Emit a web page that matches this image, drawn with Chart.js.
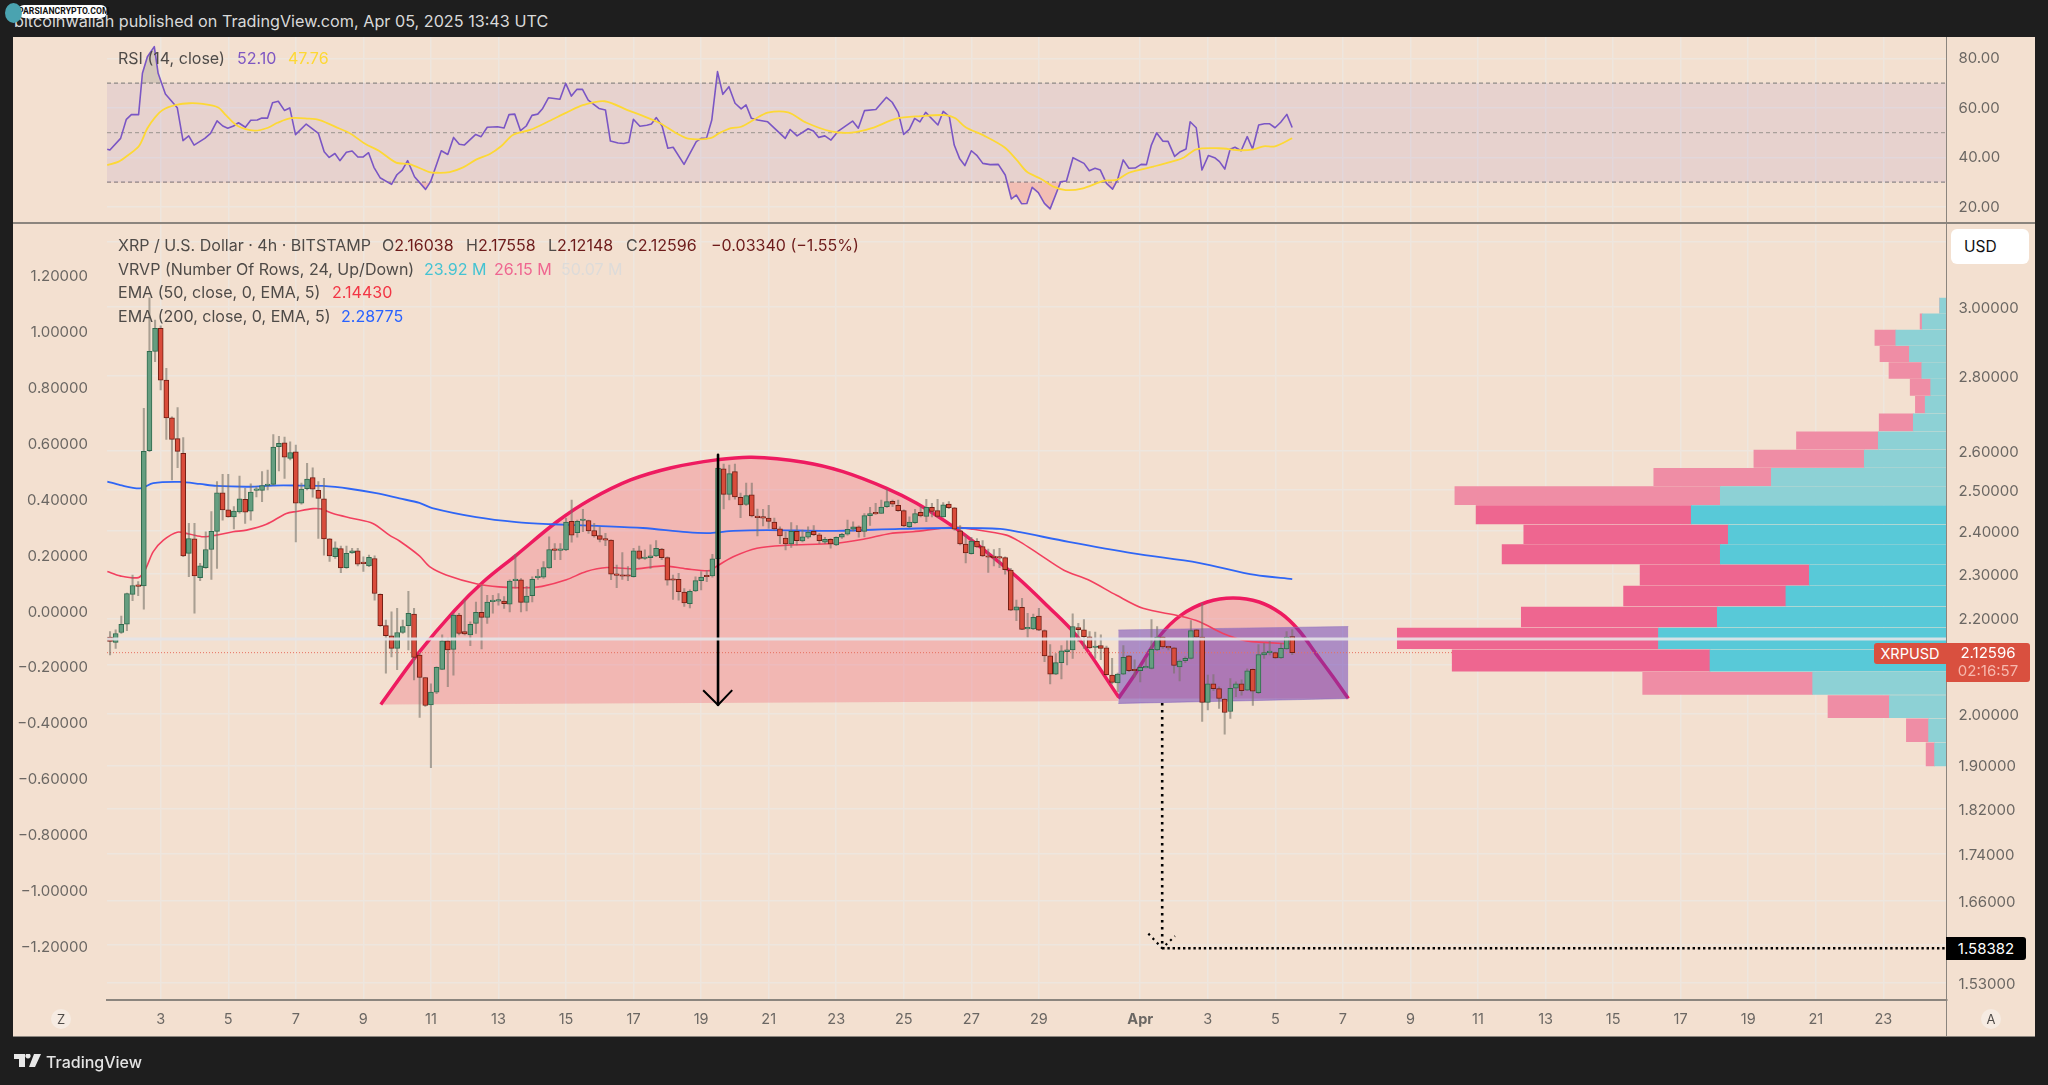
<!DOCTYPE html>
<html><head><meta charset="utf-8">
<script src="https://cdn.jsdelivr.net/npm/chart.js@4"></script>
<style>
html,body{margin:0;padding:0;background:#1e1e1e;width:2048px;height:1085px;overflow:hidden;font-family:Inter,"Noto Sans",sans-serif}
#panel{position:absolute;left:13px;top:37px;width:2022px;height:1000px;background:#f3e0d0}
canvas{position:absolute;display:block}
.t{position:absolute;white-space:nowrap;font-size:16.05px;line-height:20px;color:#4f4b48;z-index:5}
.bar{position:absolute;background:#8b857e;z-index:4}
.tag{position:absolute;z-index:6;color:#fff;text-align:center;white-space:nowrap}
</style></head><body>
<div id="panel"></div>
<canvas id="rsiChart" width="2022" height="186" style="left:13px;top:37px;width:2022px;height:186px"></canvas>
<canvas id="mainChart" width="2022" height="812" style="left:13px;top:225px;width:2022px;height:812px"></canvas>
<div class="bar" style="left:13px;top:222px;width:2022px;height:2px"></div>
<div class="bar" style="left:1946px;top:37px;width:1px;height:1000px"></div>
<div class="bar" style="left:13px;top:1036px;width:2022px;height:1px"></div>

<div class="t" style="left:14px;top:11px;color:#d9d9d9;font-size:16.2px">bitcoinwallah published on TradingView.com, Apr 05, 2025 13:43 UTC</div>
<div style="position:absolute;left:18px;top:5px;width:89px;height:13px;background:#fff;border-radius:6px;z-index:7;color:#111;font:700 8.6px/13px 'Liberation Sans Narrow','Roboto',sans-serif;text-align:right;padding-right:2px;box-sizing:border-box;white-space:nowrap;letter-spacing:.1px">PARSIANCRYPTO.COM</div>
<div style="position:absolute;left:5px;top:3px;width:17px;height:20px;background:#4aa3b0;border-radius:50%;z-index:8"></div>

<div class="t" style="left:118px;top:48px">RSI (14, close)</div>
<div class="t" style="left:237px;top:48px;color:#7e57c2">52.10</div>
<div class="t" style="left:288px;top:48px;color:#fdd835">47.76</div>

<div class="t" style="left:118px;top:235px">XRP / U.S. Dollar · 4h · BITSTAMP</div>
<div class="t" style="left:382px;top:235px">O<span style="color:#6d1b1b">2.16038</span></div>
<div class="t" style="left:466px;top:235px">H<span style="color:#6d1b1b">2.17558</span></div>
<div class="t" style="left:548px;top:235px">L<span style="color:#6d1b1b">2.12148</span></div>
<div class="t" style="left:626px;top:235px">C<span style="color:#6d1b1b">2.12596</span></div>
<div class="t" style="left:711px;top:235px;color:#6d1b1b">−0.03340 (−1.55%)</div>
<div class="t" style="left:118px;top:259px">VRVP (Number Of Rows, 24, Up/Down)</div>
<div class="t" style="left:424px;top:259px;color:#45c3d2">23.92 M</div>
<div class="t" style="left:494px;top:259px;color:#ef6690">26.15 M</div>
<div class="t" style="left:561px;top:259px;color:#dddbd9">50.07 M</div>
<div class="t" style="left:118px;top:282px">EMA (50, close, 0, EMA, 5)</div>
<div class="t" style="left:332px;top:282px;color:#f23645">2.14430</div>
<div class="t" style="left:118px;top:306px">EMA (200, close, 0, EMA, 5)</div>
<div class="t" style="left:341px;top:306px;color:#2962ff">2.28775</div>

<div class="tag" style="left:1951px;top:229px;width:78px;height:35px;background:#fff;border-radius:6px;color:#111;font-size:15.5px;line-height:35px;text-align:left;text-indent:13px">USD</div>
<div class="tag" style="left:1874px;top:643px;width:72px;height:21px;background:#d9503f;border-radius:3px 0 0 3px;font-size:14.5px;line-height:21px">XRPUSD</div>
<div class="tag" style="left:1946px;top:643px;width:84px;height:38px;background:#d9503f;border-radius:0 3px 3px 0;font-size:15px;line-height:18px;padding-top:1px">2.12596<br><span style="color:#f6b8ad">02:16:57</span></div>
<div class="tag" style="left:1946px;top:937px;width:80px;height:23px;background:#000;border-radius:0 3px 3px 0;font-size:15px;line-height:23px">1.58382</div>
<div class="t" style="left:51px;top:1009px;width:20px;height:20px;line-height:20px;text-align:center;border-radius:50%;background:#f6ebe2;font-size:13px">Z</div>
<div class="t" style="left:1981px;top:1009px;width:20px;height:20px;line-height:20px;text-align:center;border-radius:50%;background:#f6ebe2;font-size:13px">A</div>

<svg style="position:absolute;left:14px;top:1054px;z-index:6" width="27" height="14" viewBox="0 0 27 14"><path fill="#e8e8e8" d="M0 0h11v13H5V5H0zM14 4.5a2.6 2.6 0 1 1 .01 0zM20 0h7l-6 13h-6z"/></svg>
<div class="t" style="left:46px;top:1052px;color:#e4e4e4;font-size:16px;font-weight:500">TradingView</div>

<script>
// ---------- time axis (day numbers: Mar 1 = 1, Apr 1 = 32) ----------
const dayTicks=[3,5,7,9,11,13,15,17,19,21,23,25,27,29,32,34,36,38,40,42,44,46,48,50,52,54];
const dayLabels=["3","5","7","9","11","13","15","17","19","21","23","25","27","29","Apr","3","5","7","9","11","13","15","17","19","21","23"];
const dayMin=1.41, dayMax=55.87;

// ---------- price candles (4h bars) ----------
const opens=[2.159,2.148,2.169,2.187,2.253,2.272,2.272,2.600,2.870,2.937,2.789,2.686,2.631,2.593,2.347,2.381,2.291,2.314,2.356,2.399,2.493,2.451,2.434,2.446,2.477,2.448,2.499,2.499,2.511,2.514,2.610,2.620,2.580,2.597,2.467,2.503,2.531,2.499,2.478,2.381,2.339,2.358,2.314,2.348,2.353,2.324,2.318,2.335,2.253,2.184,2.162,2.135,2.169,2.184,2.209,2.121,2.074,2.018,2.044,2.091,2.151,2.133,2.207,2.171,2.164,2.189,2.213,2.202,2.237,2.238,2.238,2.231,2.284,2.286,2.235,2.250,2.291,2.292,2.313,2.356,2.354,2.355,2.423,2.396,2.425,2.425,2.401,2.389,2.381,2.378,2.297,2.295,2.295,2.293,2.353,2.335,2.337,2.341,2.357,2.337,2.286,2.287,2.258,2.232,2.261,2.284,2.295,2.295,2.334,2.553,2.489,2.546,2.482,2.464,2.488,2.436,2.432,2.431,2.421,2.405,2.383,2.369,2.399,2.376,2.385,2.399,2.391,2.373,2.380,2.367,2.385,2.392,2.404,2.410,2.399,2.437,2.445,2.442,2.459,2.472,2.462,2.449,2.410,2.420,2.445,2.435,2.457,2.449,2.434,2.465,2.456,2.400,2.369,2.346,2.375,2.363,2.339,2.338,2.337,2.337,2.308,2.218,2.224,2.177,2.177,2.205,2.173,2.119,2.081,2.105,2.128,2.132,2.180,2.175,2.160,2.137,2.141,2.136,2.079,2.063,2.081,2.119,2.089,2.088,2.094,2.093,2.132,2.159,2.137,2.136,2.096,2.109,2.114,2.175,2.159,2.023,2.061,2.051,2.030,2.005,2.052,2.061,2.048,2.091,2.043,2.121,2.126,2.126,2.115,2.134,2.16038];
const highs=[2.171,2.175,2.205,2.256,2.297,2.282,2.712,3.027,2.961,2.944,2.822,2.689,2.714,2.634,2.418,2.418,2.324,2.398,2.447,2.521,2.539,2.539,2.459,2.535,2.504,2.515,2.508,2.546,2.550,2.642,2.637,2.635,2.623,2.614,2.517,2.567,2.556,2.521,2.529,2.382,2.374,2.364,2.364,2.359,2.359,2.339,2.343,2.341,2.254,2.196,2.214,2.222,2.196,2.260,2.222,2.125,2.074,2.061,2.096,2.164,2.157,2.211,2.211,2.240,2.192,2.236,2.274,2.251,2.251,2.255,2.248,2.286,2.345,2.289,2.271,2.293,2.310,2.328,2.386,2.370,2.370,2.431,2.475,2.426,2.452,2.426,2.418,2.410,2.394,2.379,2.320,2.349,2.316,2.359,2.364,2.355,2.367,2.377,2.359,2.339,2.297,2.301,2.266,2.263,2.293,2.305,2.307,2.345,2.565,2.565,2.563,2.565,2.492,2.517,2.517,2.453,2.452,2.462,2.431,2.410,2.398,2.420,2.413,2.402,2.410,2.413,2.394,2.385,2.382,2.386,2.394,2.426,2.422,2.412,2.442,2.457,2.467,2.475,2.502,2.475,2.475,2.451,2.434,2.452,2.459,2.477,2.467,2.477,2.469,2.471,2.457,2.413,2.390,2.385,2.382,2.377,2.357,2.356,2.359,2.339,2.312,2.240,2.244,2.211,2.209,2.222,2.175,2.143,2.124,2.141,2.153,2.210,2.189,2.197,2.171,2.170,2.164,2.140,2.114,2.083,2.141,2.120,2.111,2.100,2.114,2.197,2.182,2.160,2.140,2.137,2.111,2.117,2.195,2.176,2.233,2.079,2.080,2.055,2.031,2.072,2.065,2.069,2.092,2.092,2.143,2.146,2.150,2.127,2.146,2.171,2.17558];
const lows=[2.121,2.135,2.167,2.173,2.239,2.250,2.220,2.597,2.841,2.762,2.629,2.525,2.556,2.339,2.293,2.211,2.284,2.312,2.287,2.312,2.426,2.433,2.405,2.443,2.418,2.426,2.483,2.471,2.500,2.512,2.548,2.529,2.576,2.374,2.465,2.500,2.482,2.382,2.343,2.328,2.335,2.302,2.312,2.347,2.318,2.305,2.316,2.240,2.182,2.083,2.117,2.090,2.167,2.132,2.069,1.993,2.015,1.896,2.041,2.090,2.055,2.079,2.164,2.164,2.141,2.167,2.134,2.189,2.211,2.229,2.222,2.214,2.267,2.214,2.216,2.236,2.287,2.289,2.312,2.332,2.332,2.353,2.373,2.385,2.398,2.394,2.385,2.374,2.365,2.286,2.268,2.287,2.284,2.292,2.332,2.333,2.312,2.339,2.332,2.274,2.242,2.240,2.226,2.223,2.259,2.263,2.282,2.292,2.332,2.453,2.475,2.477,2.432,2.462,2.434,2.388,2.412,2.406,2.402,2.370,2.355,2.361,2.367,2.374,2.382,2.389,2.370,2.370,2.359,2.365,2.382,2.390,2.400,2.385,2.386,2.413,2.440,2.442,2.457,2.459,2.447,2.410,2.408,2.418,2.434,2.422,2.434,2.433,2.433,2.454,2.402,2.367,2.325,2.345,2.361,2.339,2.303,2.318,2.314,2.299,2.217,2.195,2.175,2.159,2.175,2.173,2.107,2.061,2.080,2.071,2.100,2.114,2.150,2.135,2.135,2.114,2.111,2.079,2.061,2.045,2.080,2.086,2.075,2.065,2.094,2.092,2.130,2.135,2.132,2.083,2.067,2.105,2.113,2.158,1.985,2.008,2.047,2.011,1.960,1.991,2.035,2.038,2.047,2.017,2.041,2.114,2.121,2.114,2.114,2.133,2.12148];
const closes=[2.150,2.167,2.187,2.255,2.273,2.271,2.598,2.870,2.937,2.789,2.686,2.629,2.598,2.341,2.382,2.295,2.318,2.356,2.399,2.493,2.451,2.434,2.448,2.478,2.445,2.495,2.501,2.511,2.513,2.609,2.619,2.583,2.595,2.467,2.502,2.527,2.502,2.479,2.381,2.341,2.360,2.313,2.347,2.353,2.322,2.323,2.338,2.255,2.184,2.162,2.135,2.169,2.182,2.211,2.116,2.074,2.017,2.044,2.095,2.151,2.132,2.207,2.167,2.166,2.187,2.213,2.202,2.236,2.238,2.239,2.232,2.283,2.285,2.235,2.249,2.287,2.292,2.314,2.356,2.354,2.355,2.421,2.390,2.423,2.426,2.400,2.388,2.380,2.378,2.299,2.296,2.294,2.294,2.353,2.335,2.337,2.341,2.359,2.337,2.285,2.285,2.259,2.234,2.260,2.284,2.292,2.293,2.334,2.555,2.489,2.541,2.483,2.463,2.486,2.436,2.432,2.431,2.423,2.405,2.388,2.369,2.399,2.377,2.386,2.397,2.391,2.377,2.380,2.369,2.385,2.392,2.404,2.410,2.398,2.437,2.442,2.441,2.458,2.471,2.465,2.449,2.412,2.421,2.442,2.436,2.457,2.447,2.435,2.463,2.456,2.404,2.369,2.348,2.376,2.362,2.341,2.338,2.337,2.336,2.309,2.218,2.225,2.176,2.178,2.202,2.174,2.119,2.081,2.105,2.130,2.132,2.182,2.175,2.160,2.136,2.140,2.135,2.080,2.064,2.081,2.116,2.088,2.088,2.095,2.095,2.133,2.159,2.138,2.136,2.099,2.108,2.114,2.173,2.159,2.023,2.061,2.051,2.031,2.003,2.052,2.061,2.047,2.088,2.046,2.122,2.126,2.127,2.115,2.135,2.159,2.12596];
const firstCandleDay=1.5, barsPerDay=6;
const candleDays=opens.map((_,i)=>firstCandleDay+i/barsPerDay);

// ---------- moving averages ----------
const ema200Days=[1.42,1.80,2.39,2.78,3.57,4.16,4.65,5.64,6.32,7.11,7.79,8.59,9.38,10.07,10.66,11.04,12.34,13.53,14.59,15.92,17.28,18.58,19.27,19.95,20.95,22.90,24.88,26.45,27.85,28.44,29.88,31.80,33.73,35.40,36.50];
const ema200=[2.521,2.512,2.504,2.517,2.520,2.515,2.510,2.508,2.511,2.511,2.510,2.503,2.492,2.479,2.468,2.455,2.433,2.421,2.416,2.412,2.407,2.397,2.395,2.400,2.402,2.400,2.405,2.407,2.405,2.397,2.374,2.347,2.325,2.297,2.28775];
const ema50Days=[1.42,1.80,2.34,2.54,2.78,3.08,3.49,3.87,4.26,4.65,5.14,5.54,6.13,6.72,7.02,7.51,7.76,8.10,8.69,9.28,9.77,10.07,10.66,10.96,11.45,12.34,13.02,13.81,14.29,15.01,15.60,16.21,17.09,17.88,18.57,19.27,19.44,19.95,20.65,21.53,22.90,23.80,24.60,25.27,26.46,27.05,28.04,28.44,28.97,29.74,30.46,31.30,32.08,33.17,33.77,34.45,35.15,36.50];
const ema50=[2.305,2.295,2.291,2.309,2.351,2.378,2.397,2.392,2.386,2.390,2.398,2.402,2.416,2.442,2.447,2.454,2.453,2.442,2.430,2.418,2.390,2.376,2.341,2.316,2.297,2.277,2.270,2.268,2.271,2.286,2.305,2.314,2.311,2.318,2.311,2.307,2.316,2.339,2.359,2.366,2.370,2.380,2.394,2.398,2.409,2.404,2.390,2.374,2.347,2.308,2.286,2.251,2.222,2.205,2.192,2.167,2.151,2.1443];

// ---------- volume profile (24 rows) ----------
const vpRowPrice=[3.004,2.957,2.909,2.863,2.816,2.770,2.721,2.675,2.626,2.579,2.533,2.486,2.439,2.392,2.346,2.297,2.249,2.203,2.157,2.110,2.062,2.015,1.968,1.921];
const vpUp=[0.68,2.43,5.07,3.71,2.47,1.58,2.13,3.32,6.82,8.22,17.51,22.62,25.52,21.82,22.62,13.72,16.06,22.92,28.80,23.65,13.38,5.71,1.79,1.19];
const vpDown=[0,0.21,2.09,2.94,3.28,2.05,0.98,3.41,8.18,11.04,11.76,26.54,21.52,20.45,21.82,16.92,16.23,19.60,26.12,25.78,17.00,6.14,2.22,0.85];
const vpValueArea=[0,0,0,0,0,0,0,0,0,0,0,0,1,1,1,1,1,1,1,1,0,0,0,0];
const vpMax=183.95;

// ---------- drawings ----------
const bigArcDays=[9.516,10.63,11.71,12.56,13.53,14.73,15.70,16.91,18.12,19.45,20.50,22.04,23.20,24.49,25.38,26.54,27.31,28.34,29.23,30.13,31.35];
const bigArc=[2.019,2.125,2.218,2.282,2.343,2.422,2.475,2.525,2.556,2.576,2.583,2.570,2.546,2.504,2.467,2.406,2.359,2.293,2.229,2.161,2.035];
const bigBaseDays=[9.516,31.35], bigBase=[2.019,2.026];
const smallArcDays=[31.35,31.80,32.57,33.21,33.98,34.75,35.52,36.16,36.68,37.19,37.70,38.16];
const smallArc=[2.031,2.076,2.161,2.207,2.236,2.245,2.236,2.211,2.175,2.125,2.076,2.031];
const smallBaseDays=[31.35,38.16], smallBase=[2.031,2.031];
const boxDays=[31.35,38.16], boxTop=[2.1745,2.182], boxBottom=[2.021,2.031];
const arrowDays=[19.5,19.5], arrowPrices=[2.589,2.018];
const arrowHeadDays=[19.06,19.5,19.92], arrowHeadPrices=[2.048,2.018,2.048];
const targetDropDays=[32.65,32.65], targetDropPrices=[2.022,1.5838];
const targetHeadDays=[32.24,32.65,33.03], targetHeadPrices=[1.607,1.5838,1.603];
const targetLineDays=[32.65,55.87], targetLinePrices=[1.58382,1.58382];
const lastPrice=2.12596, whiteLevel=2.155;

// ---------- axes ----------
const priceMin=1.5042, priceMax=3.255;
const priceTicks=[3.2,3,2.8,2.6,2.5,2.4,2.3,2.2,2.1,2,1.9,1.82,1.74,1.66,1.59,1.53];
const priceHidden=[3.2,2.1,1.59];
const leftMin=-1.3879, leftMax=1.3807;
const leftTicks=[1.2,1,0.8,0.6,0.4,0.2,0,-0.2,-0.4,-0.6,-0.8,-1,-1.2];

// ---------- RSI ----------
const rsiDays=[1.417,1.496,1.813,1.983,2.131,2.346,2.459,2.606,2.810,2.924,3.139,3.490,3.660,3.830,3.988,4.306,4.476,4.668,4.838,4.985,5.155,5.303,5.507,5.665,5.858,5.994,6.164,6.311,6.481,6.662,6.821,6.991,7.308,7.670,7.840,7.988,8.158,8.305,8.497,8.667,8.837,8.996,9.154,9.313,9.494,9.834,9.993,10.151,10.310,10.514,10.842,10.990,11.307,11.500,11.670,11.840,11.987,12.327,12.485,12.667,12.972,13.165,13.312,13.482,13.652,13.822,13.992,14.162,14.309,14.479,14.819,14.989,15.159,15.318,15.487,15.657,15.974,16.167,16.314,16.541,16.711,16.858,16.994,17.187,17.391,17.527,17.674,17.844,18.014,18.172,18.494,18.856,19.001,19.158,19.315,19.485,19.642,19.823,20.004,20.185,20.330,20.488,20.669,20.971,21.490,21.635,21.841,22.167,22.324,22.481,22.662,22.844,23.049,23.484,23.653,23.835,24.173,24.487,24.656,24.837,24.995,25.164,25.321,25.478,25.647,26.010,26.167,26.348,26.493,26.650,26.807,27.000,27.170,27.339,27.556,27.798,28.003,28.185,28.329,28.486,28.644,28.801,28.982,29.163,29.332,29.646,29.816,30.009,30.335,30.492,30.662,30.819,31.000,31.181,31.326,31.495,31.664,31.846,32.027,32.184,32.329,32.486,32.667,32.824,33.018,33.187,33.356,33.477,33.658,33.827,34.020,34.202,34.346,34.504,34.661,34.806,34.987,35.168,35.325,35.507,35.676,35.833,35.990,36.159,36.340,36.498];
const rsiValues=[43.3,43.0,47.7,55.4,57.3,57.3,74.0,80.7,84.8,74.0,65.6,60.1,46.8,48.7,45.0,47.7,49.7,54.8,52.7,51.8,52.7,54.0,52.2,55.0,55.1,55.9,55.9,62.1,62.7,59.0,60.0,49.2,53.5,49.7,42.3,40.0,41.6,38.7,42.1,42.6,40.2,40.2,41.9,36.0,31.8,29.1,33.0,34.9,38.7,32.2,27.1,30.2,42.7,41.2,48.1,45.3,45.0,49.3,48.4,52.2,52.4,51.9,57.3,57.5,50.8,52.7,57.0,57.5,59.8,64.1,63.5,69.9,64.8,67.5,67.5,63.2,59.8,59.2,46.6,45.8,45.6,46.1,55.4,52.6,53.0,53.5,56.1,52.7,43.7,44.1,37.2,46.4,47.7,47.7,55.1,74.7,65.5,68.6,61.9,59.6,61.2,55.8,55.1,54.4,47.7,51.3,48.7,51.6,50.7,48.1,48.7,47.0,50.5,54.7,51.8,58.9,59.4,64.3,62.3,58.1,49.3,51.3,55.8,54.4,58.2,53.1,58.6,56.5,45.0,39.6,36.7,42.7,40.7,37.6,37.1,37.2,32.9,23.2,24.8,21.3,21.4,27.9,25.8,21.4,19.2,30.2,30.5,39.9,37.6,34.6,35.6,34.9,29.5,27.2,30.9,39.0,35.6,35.7,37.2,37.1,45.0,49.9,46.6,46.5,40.4,42.3,43.4,54.4,52.0,34.9,40.8,39.9,38.3,35.3,43.3,44.1,42.7,48.4,43.4,53.1,53.6,53.6,52.0,54.2,57.4,52.10];
const rsiMaDays=[1.417,1.757,2.040,2.357,2.606,2.833,3.060,3.456,3.853,4.249,4.702,4.929,5.269,5.779,6.175,6.458,6.855,7.365,7.704,8.271,8.611,9.064,9.460,9.970,10.367,10.933,11.216,11.556,11.953,12.349,12.746,13.086,13.426,13.935,14.502,15.012,15.521,16.144,16.881,17.221,17.787,18.240,18.615,19.279,19.521,19.883,20.185,20.548,20.971,21.575,22.119,22.844,23.448,24.052,24.777,25.502,26.227,26.529,26.831,27.375,27.979,28.341,28.644,29.066,29.429,29.792,30.275,30.940,31.302,31.664,32.389,32.933,33.295,33.658,34.323,34.987,35.350,35.652,35.990,36.498];
const rsiMa=[36.9,38.3,41.0,44.6,51.8,56.2,59.2,61.2,61.9,61.6,60.2,57.1,52.8,50.8,52.0,54.0,55.9,55.7,55.1,51.8,49.7,45.4,42.7,37.9,37.3,34.2,33.8,34.1,36.0,39.2,41.4,44.6,49.1,51.1,54.7,58.1,61.2,62.7,58.8,57.1,53.8,50.0,47.6,47.8,49.7,51.8,52.4,55.1,58.1,58.2,54.0,50.5,50.0,51.8,55.7,56.7,57.1,55.8,52.2,48.8,44.1,39.0,34.2,31.3,28.2,26.8,27.4,30.6,30.9,33.8,36.3,38.3,40.0,43.3,43.7,42.9,43.3,44.5,44.5,47.76];
const rsiMin=13.5, rsiMax=88.67;
const rsiTicks=[80,60,40,20];
const rsiUpperBand=70, rsiMidBand=50, rsiLowerBand=30;

// ---------- helpers ----------
const zip=(xs,ys)=>xs.map((x,i)=>({x,y:ys[i]}));
const level=v=>[{x:dayMin,y:v},{x:dayMax,y:v}];
const GRID='#eee6de', TICK='#6b6763', FONT='Inter, "Noto Sans", sans-serif';
const GREEN='#659e80', GREEN_B='#2f6a4d', RED='#d94c3b', RED_B='#701e14';
const PINK_LINE='#ee1b60', PINK_FILL='rgba(238,60,90,0.25)';
const base={type:'line',indexAxis:'x',pointRadius:0,pointHoverRadius:0,borderJoinStyle:'round',xAxisID:'x'};
const ln=(data,o)=>Object.assign({},base,{data,yAxisID:'y',fill:false,tension:0},o);
const noPad=s=>{s.paddingTop=0;s.paddingBottom=0;s.paddingLeft=0;s.paddingRight=0;};

Chart.defaults.font.family=FONT;
const common={responsive:false,animation:false,devicePixelRatio:1,events:[],
  layout:{padding:0,autoPadding:false},
  plugins:{legend:{display:false},tooltip:{enabled:false}}};

const xGrid={type:'linear',axis:'x',min:dayMin,max:dayMax,offset:false,
  grid:{color:GRID,lineWidth:1.5,drawTicks:false,offset:false},
  afterBuildTicks:s=>{s.ticks=dayTicks.map(v=>({value:v}));}};

// ---------- main chart ----------
const vpBar={type:'bar',indexAxis:'y',xAxisID:'vol',yAxisID:'y',stack:'vp',barThickness:'flex',barPercentage:0.95,categoryPercentage:1,borderWidth:0};
new Chart(document.getElementById('mainChart'),{
  type:'bar',
  data:{datasets:[
    ln(zip(bigArcDays,bigArc),{borderColor:PINK_LINE,borderWidth:3.5,tension:0.35,fill:{target:'+1'},backgroundColor:PINK_FILL,order:95}),
    ln(zip(bigBaseDays,bigBase),{borderWidth:0,borderColor:'transparent',order:96}),
    ln(zip(smallArcDays,smallArc),{borderColor:PINK_LINE,borderWidth:3.5,tension:0.35,fill:{target:'+1'},backgroundColor:PINK_FILL,order:93}),
    ln(zip(smallBaseDays,smallBase),{borderWidth:0,borderColor:'transparent',order:94}),
    ln(zip(boxDays,boxTop),{borderColor:'rgba(150,120,190,0.6)',borderWidth:1,fill:{target:'+1'},backgroundColor:'rgba(103,58,183,0.5)',order:80}),
    ln(zip(boxDays,boxBottom),{borderColor:'rgba(150,120,190,0.6)',borderWidth:1,order:81}),
    ln(level(lastPrice),{borderColor:'#e8705f',borderWidth:1,borderDash:[1,2],order:78}),
    ln(zip(ema50Days,ema50),{borderColor:'#f2405f',borderWidth:1.6,tension:0.3,order:70}),
    ln(zip(ema200Days,ema200),{borderColor:'#2f66f5',borderWidth:1.8,tension:0.3,order:69}),
    {type:'bar',indexAxis:'x',xAxisID:'x',yAxisID:'y',grouped:false,order:60,barThickness:1.4,borderWidth:0,
      backgroundColor:'rgba(120,115,105,0.6)',
      data:candleDays.map((d,i)=>({x:d,y:[lows[i],highs[i]]}))},
    {type:'bar',indexAxis:'x',xAxisID:'x',yAxisID:'y',grouped:false,order:59,barThickness:5,minBarLength:1.5,borderWidth:1,borderSkipped:false,
      backgroundColor:c=>closes[c.dataIndex]>=opens[c.dataIndex]?GREEN:RED,
      borderColor:c=>closes[c.dataIndex]>=opens[c.dataIndex]?GREEN_B:RED_B,
      data:candleDays.map((d,i)=>({x:d,y:[opens[i],closes[i]]}))},
    Object.assign({},vpBar,{order:40,
      backgroundColor:c=>vpValueArea[c.dataIndex]?'#ee6690':'#ef8da5',
      data:vpRowPrice.map((p,i)=>({y:p,x:[vpUp[i],vpUp[i]+vpDown[i]]}))}),
    Object.assign({},vpBar,{order:39,
      backgroundColor:c=>vpValueArea[c.dataIndex]?'#58c9d8':'#8dd1d5',
      data:vpRowPrice.map((p,i)=>({y:p,x:[0,vpUp[i]]}))}),
    ln(zip(arrowDays,arrowPrices),{borderColor:'#000',borderWidth:2.6,order:30}),
    ln(zip(arrowHeadDays,arrowHeadPrices),{borderColor:'#000',borderWidth:2,order:29}),
    ln(zip(targetDropDays,targetDropPrices),{borderColor:'#000',borderWidth:2.6,borderDash:[2.6,4.4],order:28}),
    ln(zip(targetHeadDays,targetHeadPrices),{borderColor:'#000',borderWidth:2.2,borderDash:[2.2,4],order:27}),
    ln(zip(targetLineDays,targetLinePrices),{borderColor:'#000',borderWidth:2.4,borderDash:[2.4,2.8],order:26}),
    ln(level(whiteLevel),{borderColor:'rgba(228,228,232,0.9)',borderWidth:3,order:10})
  ]},
  options:Object.assign({},common,{indexAxis:'y',scales:{
    x:Object.assign({},xGrid,{position:'bottom',
      border:{display:true,color:'#8b857e',width:2},
      ticks:{autoSkip:false,maxRotation:0,padding:11,color:TICK,
        font:c=>({size:14.5,family:FONT,weight:c.tick&&c.tick.value===32?'700':'400'}),
        callback:v=>dayLabels[dayTicks.indexOf(v)]},
      afterFit:s=>{s.height=37;noPad(s);}}),
    vol:{type:'linear',axis:'x',display:false,position:'bottom',reverse:true,stacked:false,min:0,max:vpMax,offset:false},
    y:{type:'logarithmic',axis:'y',position:'right',min:priceMin,max:priceMax,offset:false,
      grid:{color:GRID,lineWidth:1.5,drawTicks:false,offset:false},
      border:{display:false},
      ticks:{autoSkip:false,padding:12,labelOffset:1.5,color:TICK,font:{size:15,family:FONT},
        callback:v=>priceHidden.includes(v)?'':Number(v).toFixed(5)},
      afterBuildTicks:s=>{s.ticks=priceTicks.map(v=>({value:v}));},
      afterFit:s=>{s.width=88.5;noPad(s);}},
    left:{type:'linear',axis:'y',position:'left',min:leftMin,max:leftMax,offset:false,
      grid:{display:false},border:{display:false},
      ticks:{autoSkip:false,padding:11,labelOffset:0.5,color:TICK,font:{size:15,family:FONT},
        callback:v=>(v<0?'−':'')+Math.abs(v).toFixed(5)},
      afterBuildTicks:s=>{s.ticks=leftTicks.map(v=>({value:v}));},
      afterFit:s=>{s.width=94;noPad(s);}}
  }})
});

// ---------- RSI chart ----------
new Chart(document.getElementById('rsiChart'),{
  type:'line',
  data:{datasets:[
    ln(level(rsiUpperBand),{yAxisID:'rsi',borderColor:'#8e8a86',borderWidth:1.3,borderDash:[4,3],fill:{target:'+1'},backgroundColor:'rgba(126,87,194,0.1)',order:30}),
    ln(level(rsiLowerBand),{yAxisID:'rsi',borderColor:'#8e8a86',borderWidth:1.3,borderDash:[4,3],order:31}),
    ln(level(rsiMidBand),{yAxisID:'rsi',borderColor:'#a9a09a',borderWidth:1.3,borderDash:[4,3],order:29}),
    ln(zip(rsiDays,rsiValues),{yAxisID:'rsi',borderColor:'transparent',borderWidth:0,fill:{target:{value:rsiLowerBand},above:'transparent',below:'rgba(242,54,69,0.2)'},order:20}),
    ln(zip(rsiDays,rsiValues),{yAxisID:'rsi',borderColor:'#7a56c4',borderWidth:1.6,fill:{target:{value:rsiUpperBand},above:'rgba(110,110,110,0.22)',below:'transparent'},order:11}),
    ln(zip(rsiMaDays,rsiMa),{yAxisID:'rsi',borderColor:'#fdd835',borderWidth:1.8,tension:0.3,order:10})
  ]},
  options:Object.assign({},common,{scales:{
    x:Object.assign({},xGrid,{position:'bottom',border:{display:false},ticks:{display:false},afterFit:s=>{s.height=0;noPad(s);}}),
    rsi:{type:'linear',axis:'y',position:'right',min:rsiMin,max:rsiMax,offset:false,
      grid:{color:GRID,lineWidth:1.5,drawTicks:false},border:{display:false},
      ticks:{autoSkip:false,padding:12,labelOffset:0.5,color:TICK,font:{size:15,family:FONT},callback:v=>Number(v).toFixed(2)},
      afterBuildTicks:s=>{s.ticks=rsiTicks.map(v=>({value:v}));},
      afterFit:s=>{s.width=88.5;noPad(s);}},
    rsiLeft:{type:'linear',axis:'y',position:'left',min:rsiMin,max:rsiMax,grid:{display:false},border:{display:false},ticks:{display:false},afterFit:s=>{s.width=94;noPad(s);}}
  }})
});
</script>
</body></html>
